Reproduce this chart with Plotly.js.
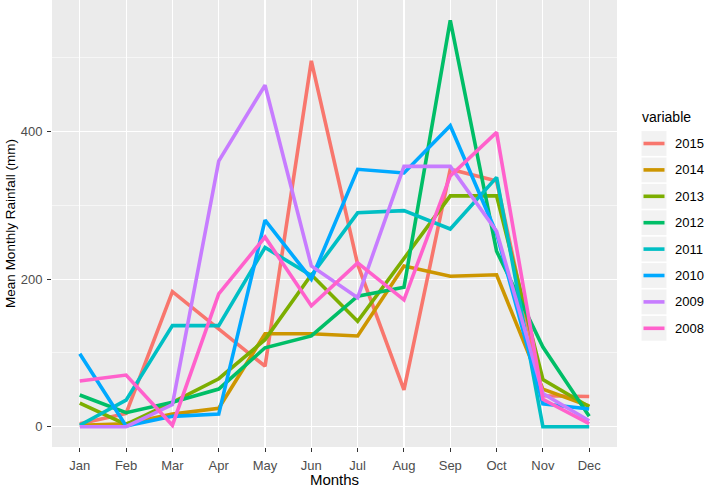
<!DOCTYPE html>
<html>
<head>
<meta charset="utf-8">
<script src="https://cdn.plot.ly/plotly-3.0.1.min.js"></script>
<style>
  body { margin: 0; background: #fff; }
  #plot { width: 707px; height: 488px; }
</style>
</head>
<body>
<div id="plot"></div>
<script>
// months on the x axis
var months = ['Jan', 'Feb', 'Mar', 'Apr', 'May', 'Jun', 'Jul', 'Aug', 'Sep', 'Oct', 'Nov', 'Dec'];

// series names, in legend order
var years = ['2015', '2014', '2013', '2012', '2011', '2010', '2009', '2008'];

// ggplot default hue palette for 8 groups
var colors = ['#F8766D', '#CD9600', '#7CAE00', '#00BE67', '#00BFC4', '#00A9FF', '#C77CFF', '#FF61CC'];

// mean monthly rainfall (mm)
var r2015 = [4, 18, 183, 132, 82, 496, 220, 50, 349, 333, 42, 41];
var r2014 = [2, 4, 17, 25, 126, 126, 123, 218, 204, 206, 51, 28];
var r2013 = [32, 3, 33, 65, 118, 206, 143, 229, 313, 313, 64, 27];
var r2012 = [43, 19, 33, 51, 107, 123, 177, 189, 551, 238, 108, 14];
var r2011 = [2, 36, 137, 137, 243, 205, 290, 293, 268, 338, 0, 0];
var r2010 = [99, 1, 14, 17, 280, 200, 349, 344, 408, 262, 31, 24];
var r2009 = [0, 0, 30, 360, 463, 218, 175, 353, 353, 265, 45, 8];
var r2008 = [62, 70, 2, 180, 257, 164, 222, 172, 340, 399, 37, 4];

var series = [r2015, r2014, r2013, r2012, r2011, r2010, r2009, r2008];

var xs = months.map(function(m, i) { return i + 1; });

var traces = series.map(function(vals, i) {
    return {
        x: xs,
        y: vals,
        name: years[i],
        mode: 'lines',
        type: 'scatter',
        line: {color: colors[i], width: 3.6},
        hoverinfo: 'skip'
    };
});

// y range like ggplot: data range expanded 5% each side
var all = [].concat.apply([], series);
var ymin = Math.min.apply(null, all), ymax = Math.max.apply(null, all);
var pad = (ymax - ymin) * 0.05;

// plot area in pixels, used to place the hand-made legend
var L = 52, W = 565, T = 0, H = 447;
function px(x) { return (x - L) / W; }
function py(y) { return (T + H - y) / H; }

var shapes = [], annotations = [];
annotations.push({
    xref: 'paper', yref: 'paper', x: px(640), y: py(117),
    xanchor: 'left', yanchor: 'middle', showarrow: false,
    text: 'variable', font: {family: 'Liberation Sans, Arial, sans-serif', size: 14, color: '#000'}
});
years.forEach(function(yr, i) {
    var cy = 143.5 + 26.4 * i;
    shapes.push({
        type: 'rect', xref: 'paper', yref: 'paper', layer: 'below',
        x0: px(641.5), x1: px(666.5), y0: py(cy - 12.4), y1: py(cy + 12.4),
        fillcolor: '#F2F2F2', line: {width: 0}
    });
    shapes.push({
        type: 'line', xref: 'paper', yref: 'paper',
        x0: px(643.5), x1: px(664.5), y0: py(cy), y1: py(cy),
        line: {color: colors[i], width: 3.6}
    });
    annotations.push({
        xref: 'paper', yref: 'paper', x: px(673), y: py(cy),
        xanchor: 'left', yanchor: 'middle', showarrow: false,
        text: yr, font: {family: 'Liberation Sans, Arial, sans-serif', size: 13, color: '#000'}
    });
});

var layout = {
    width: 707,
    height: 488,
    margin: {l: L, r: 707 - L - W, t: T, b: 488 - T - H, pad: 0},
    paper_bgcolor: '#FFFFFF',
    plot_bgcolor: '#EBEBEB',
    showlegend: false,
    font: {family: 'Liberation Sans, Arial, sans-serif', size: 12, color: '#4D4D4D'},
    xaxis: {
        range: [0.4, 12.6],
        tickvals: xs,
        ticktext: months,
        showgrid: true,
        gridcolor: '#FFFFFF',
        gridwidth: 1.1,
        zeroline: false,
        showline: false,
        ticks: 'outside',
        ticklen: 4,
        tickwidth: 1,
        tickcolor: '#333333',
        ticklabelstandoff: 2,
        tickfont: {size: 13, color: '#4D4D4D'},
        title: {text: 'Months', font: {size: 15, color: '#000'}, standoff: 3},
        automargin: false
    },
    yaxis: {
        range: [ymin - pad, ymax + pad],
        tickvals: [0, 200, 400],
        showgrid: true,
        gridcolor: '#FFFFFF',
        gridwidth: 1.1,
        minor: {tickvals: [100, 300, 500], showgrid: true, gridcolor: '#FFFFFF', gridwidth: 0.55, ticks: ''},
        zeroline: false,
        showline: false,
        ticks: 'outside',
        ticklen: 4,
        tickwidth: 1,
        tickcolor: '#333333',
        ticklabelstandoff: 2,
        tickfont: {size: 13, color: '#4D4D4D'},
        title: {text: 'Mean Monthly Rainfall (mm)', font: {size: 13.5, color: '#000'}, standoff: 1},
        automargin: false
    },
    shapes: shapes,
    annotations: annotations
};

Plotly.newPlot('plot', traces, layout, {displayModeBar: false, staticPlot: true});
</script>
</body>
</html>
